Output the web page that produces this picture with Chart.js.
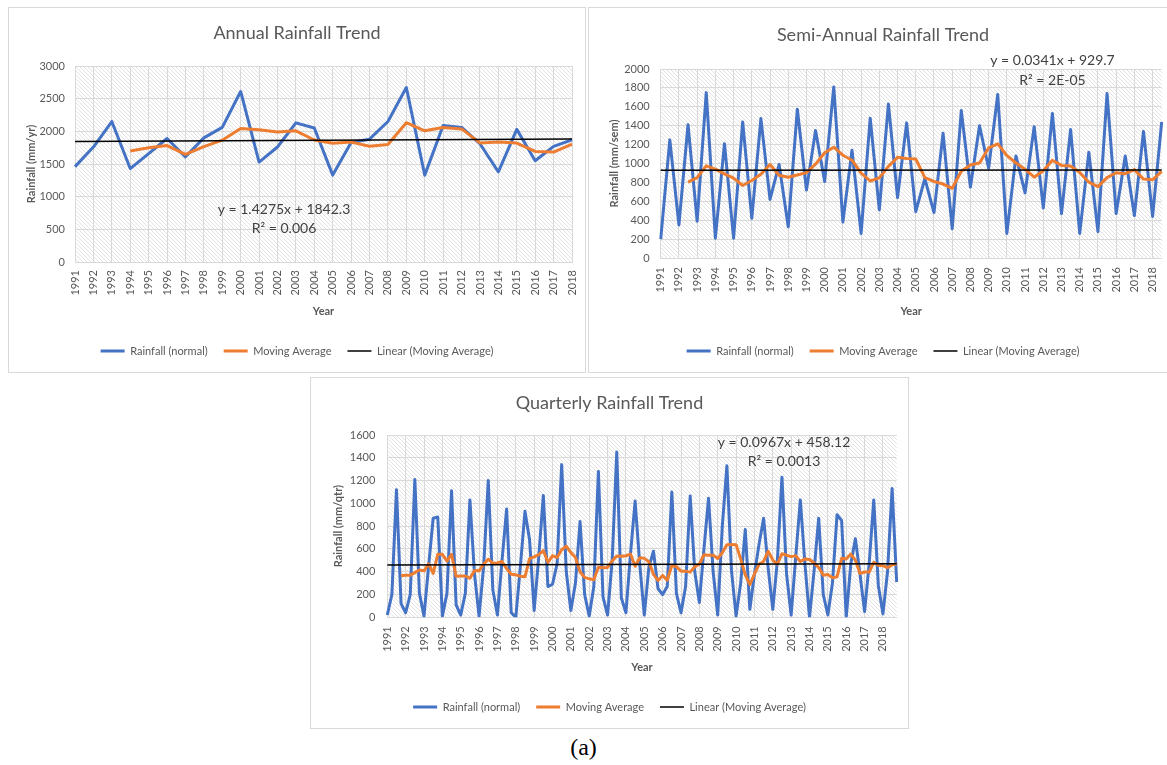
<!DOCTYPE html>
<html>
<head>
<meta charset="utf-8">
<title>Rainfall Trends</title>
<script src="https://cdn.jsdelivr.net/npm/chart.js@4.4.1/dist/chart.umd.min.js"></script>
<style>
  html, body { margin: 0; padding: 0; background: #ffffff; width: 1167px; height: 765px; overflow: hidden; }
  .panel { position: absolute; border: 1px solid #d9d9d9; box-sizing: border-box; background: #ffffff; overflow: hidden; }
  .panel canvas { position: absolute; left: -1px; top: -1px; }
  #caption { position: absolute; left: 0; top: 733px; width: 1167px; text-align: center;
             font: 24px "Liberation Serif", "Times New Roman", serif; line-height: 28px; color: #000; }
</style>
</head>
<body>
<div class="panel" style="left:8px;top:7px;width:578px;height:366px"><canvas id="annual" width="578" height="366"></canvas></div>
<div class="panel" style="left:588px;top:7px;width:590px;height:366px"><canvas id="semi" width="590" height="366"></canvas></div>
<div class="panel" style="left:310px;top:377px;width:599px;height:352px"><canvas id="quarter" width="599" height="352"></canvas></div>
<div id="caption">(a)</div>

<script>
// ---- data -------------------------------------------------------------
const years = ['1991','1992','1993','1994','1995','1996','1997','1998','1999','2000',
               '2001','2002','2003','2004','2005','2006','2007','2008','2009','2010',
               '2011','2012','2013','2014','2015','2016','2017','2018'];

// annual totals (mm/yr) and 4-year moving average
const annualRain = [1460,1760,2150,1430,1660,1890,1610,1900,2060,2610,
                    1530,1760,2130,2050,1330,1830,1880,2150,2670,1330,
                    2090,2060,1810,1380,2030,1550,1770,1870];
const annualMA = [null,null,null,1700,1750,1782.5,1647.5,1765,1865,2045,
                  2025,1990,2007.5,1867.5,1817.5,1835,1772.5,1797.5,2132.5,2007.5,
                  2060,2037.5,1822.5,1835,1820,1692.5,1682.5,1805];

// semi-annual totals (mm/sem), two per year, and 4-period moving average
const semiRain = [200,1250,350,1410,390,1750,210,1210,210,1440,
                  420,1475,620,990,330,1575,720,1350,810,1810,
                  380,1140,260,1480,510,1630,640,1430,490,840,
                  480,1320,310,1560,750,1400,950,1730,260,1080,
                  690,1390,530,1530,470,1360,260,1120,280,1740,
                  470,1080,450,1340,440,1440];
const semiMA = [null,null,null,802.5,850,975,940,890,845,767.5,
                820,886.3,988.8,876.3,853.8,878.8,903.8,993.8,1113.8,1172.5,
                1087.5,1035,897.5,815,847.5,970,1065,1052.5,1047.5,850,
                810,782.5,737.5,917.5,985,1005,1165,1207.5,1085,1005,
                940,855,922.5,1035,980,972.5,905,802.5,755,850,
                902.5,892.5,935,835,827.5,917.5];

// quarterly totals (mm/qtr), four per year, and 4-period moving average
const quarterRain = [20,200,1120,120,40,200,1210,210,10,450,
                     870,880,10,210,1110,110,20,210,1030,380,
                     10,450,1200,240,20,500,950,40,0,450,
                     930,680,60,530,1070,270,290,470,1340,400,
                     60,300,840,200,10,270,1280,180,20,500,
                     1450,170,40,560,1020,470,20,440,580,250,
                     200,270,1100,210,40,270,1065,400,130,600,
                     1045,400,20,800,1330,410,10,300,770,70,
                     380,640,870,430,70,500,1230,380,20,530,
                     1030,470,0,410,870,200,20,300,900,850,
                     0,470,690,380,50,470,1030,280,30,400,
                     1130,310];
const quarterMA = [null,null,null,365,370,370,392.5,415,407.5,470,
                   385,552.5,552.5,492.5,552.5,360,362.5,362.5,342.5,410,
                   407.5,467.5,510,475,477.5,490,427.5,377.5,372.5,360,
                   355,515,530,550,585,482.5,540,525,592.5,625,
                   567.5,525,400,350,337.5,330,440,435,437.5,495,
                   537.5,535,540,555,447.5,522.5,517.5,487.5,377.5,322.5,
                   367.5,325,455,445,405,405,396.3,443.8,466.3,548.8,
                   543.8,543.8,516.3,566.3,637.5,640,637.5,512.5,372.5,287.5,
                   380,465,490,580,502.5,467.5,557.5,545,532.5,540,
                   490,512.5,507.5,477.5,437.5,370,375,347.5,355,517.5,
                   512.5,555,502.5,385,397.5,397.5,482.5,457.5,452.5,435,
                   460,467.5];

// linear trend fitted to each moving average (x = 1..n)
const annualTrend  = { slope: 1.4275, intercept: 1842.3 };
const semiTrend    = { slope: 0.0341, intercept: 929.7 };
const quarterTrend = { slope: 0.0967, intercept: 458.12 };

const annualEquation  = ['y = 1.4275x + 1842.3', 'R\u00B2 = 0.006'];
const semiEquation    = ['y = 0.0341x + 929.7', 'R\u00B2 = 2E-05'];
const quarterEquation = ['y = 0.0967x + 458.12', 'R\u00B2 = 0.0013'];

// category labels: one label per year, blanks for the other periods
const annualLabels  = years.slice();
const semiLabels    = years.flatMap(y => [y, '']);
const quarterLabels = years.flatMap(y => [y, '', '', '']);

// ---- styling ----------------------------------------------------------
const FONT = 'Lato, "Open Sans", "DejaVu Sans", sans-serif';
const GRAY = '#595959';
const GRID = '#d9d9d9';
const BLUE = '#4472C4';
const ORANGE = '#ED7D31';
const BLACK = '#000000';
const LEGEND_FONT = 11;
const LEGEND_PAD = 16;
const LEGEND_H = LEGEND_FONT + LEGEND_PAD + 10;

function hatchPattern(ctx) {
  const t = document.createElement('canvas');
  t.width = 4; t.height = 4;
  const c = t.getContext('2d');
  c.fillStyle = '#ffffff';
  c.fillRect(0, 0, 4, 4);
  c.strokeStyle = '#e2e2e2';
  c.lineWidth = 1;
  c.beginPath();
  c.moveTo(-1, -1); c.lineTo(5, 5);
  c.moveTo(-1, 3); c.lineTo(1, 5);
  c.moveTo(3, -1); c.lineTo(5, 1);
  c.stroke();
  return ctx.createPattern(t, 'repeat');
}

// diagonal hatch behind the plot area
const hatchPlugin = {
  id: 'plotHatch',
  beforeDraw(chart) {
    const { ctx, chartArea: a } = chart;
    ctx.save();
    ctx.fillStyle = hatchPattern(ctx);
    ctx.fillRect(a.left, a.top, a.right - a.left, a.bottom - a.top);
    ctx.restore();
  }
};

// trendline equation and R² label
const equationPlugin = {
  id: 'trendEquation',
  afterDatasetsDraw(chart, args, opts) {
    if (!opts || !opts.lines) return;
    const ctx = chart.ctx;
    ctx.save();
    ctx.font = opts.size + 'px ' + FONT;
    ctx.fillStyle = '#404040';
    ctx.textAlign = 'center';
    ctx.textBaseline = 'middle';
    opts.lines.forEach((t, i) => ctx.fillText(t, opts.x, opts.y + i * opts.gap));
    ctx.restore();
  }
};

function makeChart(id, s) {
  const n = s.labels.length;
  const trend = new Array(n).fill(null);
  trend[0] = s.trend.intercept + s.trend.slope * 1;
  trend[n - 1] = s.trend.intercept + s.trend.slope * n;

  const g = s.geo;
  const canvas = document.getElementById(id);
  const W = canvas.width, H = canvas.height;
  const scaleBottom = H - g.padB - LEGEND_H;

  return new Chart(canvas, {
    type: 'line',
    data: {
      labels: s.labels,
      datasets: [
        { label: 'Rainfall (normal)', data: s.rain, borderColor: BLUE, backgroundColor: BLUE, borderWidth: 3, order: 3 },
        { label: 'Moving Average', data: s.ma, borderColor: ORANGE, backgroundColor: ORANGE, borderWidth: 3, order: 2 },
        { label: 'Linear (Moving Average)', data: trend, borderColor: BLACK, backgroundColor: BLACK, borderWidth: 1.5, spanGaps: true, order: 1 }
      ]
    },
    options: {
      responsive: false,
      animation: false,
      devicePixelRatio: 1,
      layout: { padding: { top: 0, left: 0, right: 0, bottom: g.padB } },
      elements: {
        point: { radius: 0, hoverRadius: 0 },
        line: { tension: 0, borderJoinStyle: 'round' }
      },
      plugins: {
        title: {
          display: true, text: s.title, color: GRAY,
          font: { family: FONT, size: 18, weight: 'normal', lineHeight: 1.2 },
          padding: { top: g.titleY - 10.8, bottom: g.T - g.titleY - 10.8 }
        },
        legend: {
          position: 'bottom',
          labels: {
            usePointStyle: true,
            pointStyleWidth: 24,
            padding: LEGEND_PAD,
            color: GRAY,
            font: { family: FONT, size: LEGEND_FONT },
            sort: (a, b) => a.datasetIndex - b.datasetIndex,
            generateLabels(chart) {
              return chart.data.datasets.map((ds, i) => ({
                text: ds.label,
                fillStyle: ds.borderColor,
                strokeStyle: ds.borderColor,
                lineWidth: ds.borderWidth,
                pointStyle: 'line',
                hidden: false,
                datasetIndex: i,
                fontColor: GRAY
              }));
            }
          }
        },
        tooltip: { enabled: false },
        trendEquation: { lines: s.equation, x: g.eqX, y: g.eqY, gap: g.eqGap, size: 14 }
      },
      scales: {
        x: {
          type: 'category',
          offset: false,
          grid: {
            color: c => (c.tick && c.tick.label !== '' ? GRID : 'rgba(0,0,0,0)'),
            drawTicks: false
          },
          border: { color: GRID },
          ticks: {
            autoSkip: false, maxRotation: 90, minRotation: 90,
            padding: g.xPad, color: GRAY,
            font: { family: FONT, size: 11 }
          },
          title: {
            display: true, text: 'Year', color: GRAY,
            font: { family: FONT, size: 11, weight: 'bold', lineHeight: 1.2 },
            padding: { top: 0, bottom: scaleBottom - g.xTitleY - 6.6 }
          },
          afterFit(sc) { sc.height = scaleBottom - g.B; sc.paddingRight = W - g.R; }
        },
        y: {
          min: 0, max: s.yMax,
          ticks: {
            stepSize: s.yStep, padding: g.yPad, color: GRAY,
            font: { family: FONT, size: 11 },
            callback: v => String(v)
          },
          grid: { color: GRID, drawTicks: false },
          border: { display: false },
          title: {
            display: true, text: s.yTitle, color: GRAY,
            font: { family: FONT, size: 11, weight: 'bold', lineHeight: 1.2 },
            padding: { top: g.yTitleX - 6.6, bottom: 0 }
          },
          afterFit(sc) { sc.width = g.L; }
        }
      }
    },
    plugins: [hatchPlugin, equationPlugin]
  });
}

makeChart('annual', {
  title: 'Annual Rainfall Trend', yTitle: 'Rainfall (mm/yr)',
  labels: annualLabels, rain: annualRain, ma: annualMA, trend: annualTrend, equation: annualEquation,
  yMax: 3000, yStep: 500,
  geo: { L: 67, R: 564, T: 59, B: 255, titleY: 26, yTitleX: 23.7, xTitleY: 304, padB: 6.5,
         yPad: 10, xPad: 8, eqX: 276, eqY: 202, eqGap: 19 }
});

makeChart('semi', {
  title: 'Semi-Annual Rainfall Trend', yTitle: 'Rainfall (mm/sem)',
  labels: semiLabels, rain: semiRain, ma: semiMA, trend: semiTrend, equation: semiEquation,
  yMax: 2000, yStep: 200,
  geo: { L: 72.7, R: 573.7, T: 62, B: 251, titleY: 28, yTitleX: 26, xTitleY: 304, padB: 6.5,
         yPad: 11, xPad: 9, eqX: 464.5, eqY: 53, eqGap: 20 }
});

makeChart('quarter', {
  title: 'Quarterly Rainfall Trend', yTitle: 'Rainfall (mm/qtr)',
  labels: quarterLabels, rain: quarterRain, ma: quarterMA, trend: quarterTrend, equation: quarterEquation,
  yMax: 1600, yStep: 200,
  geo: { L: 77.3, R: 586.7, T: 58, B: 240.3, titleY: 26, yTitleX: 28.3, xTitleY: 290, padB: 6.5,
         yPad: 12, xPad: 9, eqX: 474, eqY: 65, eqGap: 19 }
});
</script>
</body>
</html>
